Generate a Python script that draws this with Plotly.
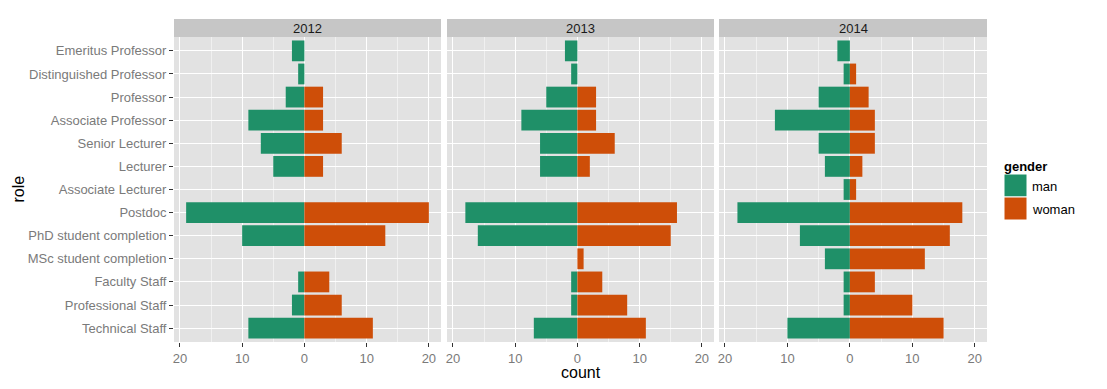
import plotly.graph_objects as go

roles = ["Emeritus Professor", "Distinguished Professor", "Professor",
         "Associate Professor", "Senior Lecturer", "Lecturer",
         "Associate Lecturer", "Postdoc", "PhD student completion",
         "MSc student completion", "Faculty Staff", "Professional Staff",
         "Technical Staff"]
years = ["2012", "2013", "2014"]

man_2012 = [2, 1, 3, 9, 7, 5, 0, 19, 10, 0, 1, 2, 9]
woman_2012 = [0, 0, 3, 3, 6, 3, 0, 20, 13, 0, 4, 6, 11]
man_2013 = [2, 1, 5, 9, 6, 6, 0, 18, 16, 0, 1, 1, 7]
woman_2013 = [0, 0, 3, 3, 6, 2, 0, 16, 15, 1, 4, 8, 11]
man_2014 = [2, 1, 5, 12, 5, 4, 1, 18, 8, 4, 1, 1, 10]
woman_2014 = [0, 1, 3, 4, 4, 2, 1, 18, 16, 12, 4, 10, 15]

x_tickvals = [-20, -10, 0, 10, 20]
x_ticktext = ["20", "10", "0", "10", "20"]

men = [man_2012, man_2013, man_2014]
women = [woman_2012, woman_2013, woman_2014]

C_MAN = "#1F9068"
C_WOMAN = "#CE4E08"
W, H = 1107, 389
FONT = "Liberation Sans, Arial, sans-serif"

panels = [(174, 441), (447, 714), (719, 987)]
ptop, pbot = 37, 342
strip_top = 19

fig = go.Figure()
for i, yr in enumerate(years):
    sfx = "" if i == 0 else str(i + 1)
    fig.add_trace(go.Bar(y=roles, x=[-v for v in men[i]], orientation="h",
                         marker=dict(color=C_MAN, line=dict(width=0)),
                         name="man", showlegend=False,
                         xaxis="x" + sfx, yaxis="y" + sfx))
    fig.add_trace(go.Bar(y=roles, x=women[i], orientation="h",
                         marker=dict(color=C_WOMAN, line=dict(width=0)),
                         name="woman", showlegend=False,
                         xaxis="x" + sfx, yaxis="y" + sfx))

layout = dict(width=W, height=H, margin=dict(l=0, r=0, t=0, b=0),
              paper_bgcolor="white", plot_bgcolor="#E2E2E2",
              barmode="relative", bargap=0.1,
              font=dict(family=FONT, size=13, color="#7A7A7A"))
shapes = []
annotations = []
n = len(roles)
for i, (l, r) in enumerate(panels):
    sfx = "" if i == 0 else str(i + 1)
    layout["xaxis" + sfx] = dict(
        domain=[l / W, r / W], anchor="y" + sfx, range=[-20.95, 21.95],
        tickvals=x_tickvals, ticktext=x_ticktext,
        showgrid=True, gridcolor="white", gridwidth=1.3,
        minor=dict(tickvals=[-15, -5, 5, 15], showgrid=True,
                   gridcolor="#F0F0F0", gridwidth=0.8, ticks=""),
        ticks="outside", ticklen=4, tickcolor="#333333", tickwidth=1,
        tickfont=dict(size=13, color="#7A7A7A"),
        zeroline=False, showline=False, fixedrange=True)
    layout["yaxis" + sfx] = dict(
        domain=[1 - pbot / H, 1 - ptop / H], anchor="x" + sfx,
        type="category", categoryorder="array", categoryarray=roles,
        range=[n - 0.4, -0.6],
        showgrid=True, gridcolor="white", gridwidth=1.3,
        ticks="outside" if i == 0 else "", ticklen=4, tickcolor="#333333",
        showticklabels=(i == 0),
        tickfont=dict(size=13, color="#7A7A7A"),
        zeroline=False, showline=False, fixedrange=True)
    shapes.append(dict(type="rect", xref="paper", yref="paper",
                       x0=l / W, x1=r / W, y0=1 - ptop / H, y1=1 - strip_top / H,
                       fillcolor="#C6C6C6", line=dict(width=0), layer="below"))
    annotations.append(dict(text=years[i], xref="paper", yref="paper",
                            x=(l + r) / 2 / W, y=1 - (ptop + strip_top) / 2 / H,
                            showarrow=False, xanchor="center", yanchor="middle",
                            font=dict(size=13, color="#1A1A1A")))

# axis titles
annotations.append(dict(text="count", xref="paper", yref="paper",
                        x=(panels[0][0] + panels[2][1]) / 2 / W, y=1 - 372 / H,
                        showarrow=False, xanchor="center", yanchor="middle",
                        font=dict(size=16, color="black")))
annotations.append(dict(text="role", xref="paper", yref="paper",
                        x=18 / W, y=1 - (ptop + pbot) / 2 / H, textangle=-90,
                        showarrow=False, xanchor="center", yanchor="middle",
                        font=dict(size=16, color="black")))

# legend (drawn manually, ggplot style)
annotations.append(dict(text="<b>gender</b>", xref="paper", yref="paper",
                        x=1002 / W, y=1 - 166 / H, showarrow=False,
                        xanchor="left", yanchor="middle",
                        font=dict(size=13, color="black")))
for k, (lab, col) in enumerate([("man", C_MAN), ("woman", C_WOMAN)]):
    y0 = 174 + 23 * k
    shapes.append(dict(type="rect", xref="paper", yref="paper",
                       x0=1004 / W, x1=1027 / W, y0=1 - (y0 + 23) / H, y1=1 - y0 / H,
                       fillcolor=col, line=dict(color="white", width=1)))
    annotations.append(dict(text=lab, xref="paper", yref="paper",
                            x=1030 / W, y=1 - (y0 + 12) / H, showarrow=False,
                            xanchor="left", yanchor="middle",
                            font=dict(size=13, color="black")))

layout["shapes"] = shapes
layout["annotations"] = annotations
fig.update_layout(**layout)
fig.write_html("out.html", config={"displayModeBar": False},
               post_script="document.body.style.margin='0';document.body.style.overflow='hidden';")
